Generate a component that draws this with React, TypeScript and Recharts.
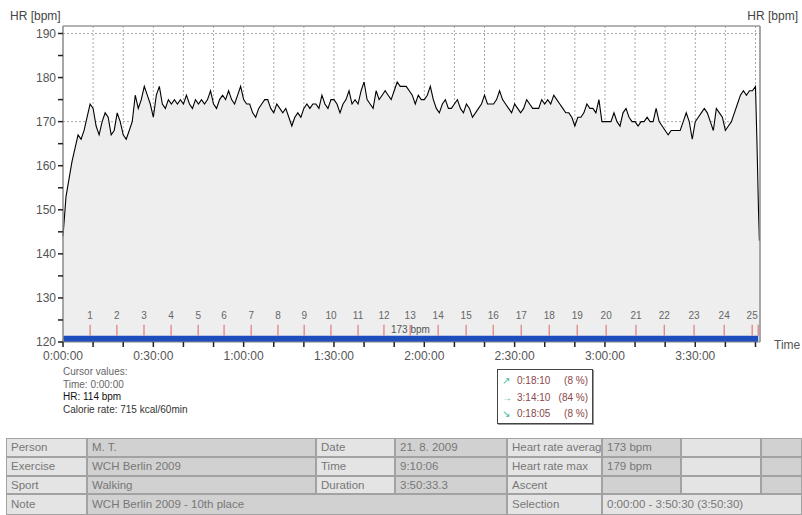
import React from 'react';
import {
  ComposedChart,
  Area,
  XAxis,
  YAxis,
  CartesianGrid,
  ReferenceLine,
  ReferenceArea,
} from 'recharts';

// heart rate, one reading per minute from 0:00 to 3:50
const HR_PER_MIN = [
  144, 153, 157, 161, 164, 167, 166, 168, 171, 174,
  173, 169, 167, 170, 172, 171, 167, 168, 172, 170,
  167, 166, 168, 170, 176, 173, 175, 178, 176, 174,
  171, 176, 178, 174, 173, 175, 174, 175, 174, 175,
  174, 176, 174, 173, 175, 174, 175, 174, 175, 177,
  174, 173, 175, 176, 175, 177, 175, 174, 176, 178,
  175, 174, 174, 172, 171, 173, 174, 175, 175, 173,
  172, 174, 173, 172, 173, 171, 169, 171, 172, 171,
  173, 174, 173, 174, 174, 173, 176, 174, 173, 175,
  175, 174, 172, 174, 175, 177, 174, 175, 174, 177,
  179, 175, 174, 173, 177, 175, 176, 177, 176, 175,
  177, 179, 178, 178, 178, 177, 176, 174, 176, 175,
  175, 176, 178, 175, 173, 172, 174, 175, 173, 173,
  174, 175, 173, 172, 174, 173, 171, 172, 173, 174,
  176, 174, 174, 174, 175, 177, 175, 174, 173, 172,
  174, 173, 172, 173, 175, 174, 173, 173, 173, 175,
  174, 175, 174, 176, 175, 174, 173, 172, 172, 171,
  169, 171, 171, 172, 174, 173, 173, 172, 175, 170,
  170, 170, 170, 172, 170, 169, 172, 173, 171, 170,
  170, 169, 170, 170, 171, 170, 170, 173, 170, 169,
  168, 167, 168, 168, 168, 168, 170, 172, 170, 166,
  170, 171, 172, 173, 172, 170, 168, 173, 172, 171,
  168, 169, 170, 172, 174, 176, 177, 176, 177, 177,
  178,
];

// the drop after the finish
const END_MIN = [230.5, 231, 231.3];
const END_HR = [165, 150, 143];

// lap markers (minutes)
const LAP_MIN = [
  9.0, 17.9, 26.9, 35.9, 44.9, 53.5, 62.5, 71.4, 80.1, 89.0,
  98.0, 106.6, 115.3, 124.6, 133.9, 142.9, 152.2, 161.5, 170.8, 180.4,
  190.3, 199.7, 209.6, 219.6, 228.9, 230.9,
];
const LAP_LABELS = [
  '1', '2', '3', '4', '5', '6', '7', '8', '9', '10',
  '11', '12', '13', '14', '15', '16', '17', '18', '19', '20',
  '21', '22', '23', '24', '25', '',
];

const X_TICKS = [
  0, 10, 20, 30, 40, 50, 60, 70, 80, 90, 100, 110, 120,
  130, 140, 150, 160, 170, 180, 190, 200, 210, 220, 230,
];
const GRID_MIN = [
  10, 20, 30, 40, 50, 60, 70, 80, 90, 100, 110, 120,
  130, 140, 150, 160, 170, 180, 190, 200, 210, 220, 230,
];
const Y_TICKS = [120, 125, 130, 135, 140, 145, 150, 155, 160, 165, 170, 175, 180, 185, 190];
const LIMIT_LINES = [170, 190];

const X_MAX = 231.5;
const Y_MIN = 120;
const Y_MAX = 191.7;
const BAR_TOP = 121.4;
const LAP_TOP = 123.9;

const data = [
  ...HR_PER_MIN.map((hr, i) => ({ t: i, hr })),
  ...END_MIN.map((t, i) => ({ t, hr: END_HR[i] })),
];

const fmtTime = (m: number) =>
  m % 30 === 0 ? `${Math.floor(m / 60)}:${String(m % 60).padStart(2, '0')}:00` : '';
const fmtHr = (v: number) => (v % 10 === 0 ? String(v) : '');

const L = '#e4e4e4';
const D = '#d1d1d1';
const COLS = [6, 87, 316, 395, 507, 602, 681, 761, 802];
const ROW_TOPS = [438, 457, 476, 494];
const ROW_H = [19, 19, 18, 21];
const TABLE = [
  [['Person', L, 1], ['M. T.', D, 1], ['Date', L, 1], ['21. 8. 2009', D, 1], ['Heart rate averag', L, 1], ['173 bpm', D, 1], ['', L, 1], ['', D, 1]],
  [['Exercise', L, 1], ['WCH Berlin 2009', D, 1], ['Time', L, 1], ['9:10:06', D, 1], ['Heart rate max', L, 1], ['179 bpm', D, 1], ['', L, 1], ['', D, 1]],
  [['Sport', L, 1], ['Walking', D, 1], ['Duration', L, 1], ['3:50:33.3', D, 1], ['Ascent', L, 1], ['', D, 1], ['', L, 1], ['', D, 1]],
  [['Note', L, 1], ['WCH Berlin 2009 - 10th place', D, 3], ['Selection', L, 1], ['0:00:00 - 3:50:30 (3:50:30)', L, 3]],
] as [string, string, number][][];

const ZONES = [
  ['\u2197', '0:18:10', '(8 %)'],
  ['\u2192', '3:14:10', '(84 %)'],
  ['\u2198', '0:18:05', '(8 %)'],
];

const tickStyle = { fill: '#555', fontSize: 12 };

export default function App() {
  const cells: React.ReactNode[] = [];
  TABLE.forEach((row, r) => {
    let c = 0;
    row.forEach(([text, bg, span], k) => {
      const left = COLS[c];
      const right = COLS[c + span];
      c += span;
      cells.push(
        <div
          key={`${r}-${k}`}
          style={{
            position: 'absolute',
            left,
            top: ROW_TOPS[r],
            width: right - left,
            height: ROW_H[r],
            background: bg,
            border: '1px solid #a2a2a2',
            boxSizing: 'border-box',
            color: '#777',
            fontSize: 11.5,
            lineHeight: `${ROW_H[r] - 2}px`,
            paddingLeft: 4,
            whiteSpace: 'nowrap',
            overflow: 'hidden',
          }}
        >
          {text}
        </div>
      );
    });
  });

  return (
    <div
      style={{
        position: 'absolute',
        left: 0,
        top: 0,
        width: 802,
        height: 515,
        background: '#fff',
        fontFamily: '"Liberation Sans", Arial, sans-serif',
        overflow: 'hidden',
      }}
    >
      <ComposedChart
        width={802}
        height={370}
        data={data}
        margin={{ top: 26, right: 0, bottom: 0, left: 0 }}
      >
        <CartesianGrid
          yAxisId="left"
          stroke="#a8a8a8"
          strokeDasharray="2 2"
          horizontalValues={LIMIT_LINES}
          verticalValues={GRID_MIN}
        />
        <XAxis
          type="number"
          dataKey="t"
          domain={[0, X_MAX]}
          ticks={X_TICKS}
          interval={0}
          tickFormatter={fmtTime}
          height={28}
          tickSize={5}
          tickMargin={4}
          axisLine={{ stroke: '#8a8a8a' }}
          tickLine={{ stroke: '#222', strokeWidth: 1.5 }}
          tick={tickStyle}
        />
        <YAxis
          yAxisId="left"
          domain={[Y_MIN, Y_MAX]}
          ticks={Y_TICKS}
          interval={0}
          tickFormatter={fmtHr}
          width={63}
          tickSize={5}
          tickMargin={2}
          axisLine={{ stroke: '#8a8a8a', strokeWidth: 1.5 }}
          tickLine={{ stroke: '#222', strokeWidth: 1.5 }}
          tick={tickStyle}
        />
        <YAxis
          yAxisId="right"
          orientation="right"
          domain={[Y_MIN, Y_MAX]}
          ticks={Y_TICKS}
          interval={0}
          tickFormatter={fmtHr}
          width={42}
          tickSize={5}
          tickMargin={2}
          axisLine={{ stroke: '#8a8a8a', strokeWidth: 1.5 }}
          tickLine={{ stroke: '#222', strokeWidth: 1.5 }}
          tick={tickStyle}
        />
        <ReferenceLine yAxisId="left" y={Y_MAX} stroke="#9a9a9a" strokeWidth={1.5} />
        <Area
          yAxisId="left"
          type="linear"
          dataKey="hr"
          stroke="#000"
          strokeWidth={1.1}
          fill="#eeeeee"
          fillOpacity={1}
          baseValue={Y_MIN}
          isAnimationActive={false}
        />
        <ReferenceArea
          yAxisId="left"
          x1={0}
          x2={LAP_MIN[LAP_MIN.length - 1]}
          y1={Y_MIN}
          y2={BAR_TOP}
          fill="#1f4dbd"
          fillOpacity={1}
          stroke="none"
        />
        {LAP_MIN.map((t, i) => (
          <ReferenceLine
            key={i}
            yAxisId="left"
            segment={[
              { x: t, y: BAR_TOP },
              { x: t, y: LAP_TOP },
            ]}
            stroke="#e07a7a"
            strokeWidth={1.2}
            label={{ value: LAP_LABELS[i], position: 'top', offset: 6, fill: '#666', fontSize: 10 }}
          />
        ))}
      </ComposedChart>

      <div style={{ position: 'absolute', left: 10, top: 9, fontSize: 12, color: '#444' }}>HR [bpm]</div>
      <div style={{ position: 'absolute', right: 4, top: 9, fontSize: 12, color: '#444' }}>HR [bpm]</div>
      <div style={{ position: 'absolute', left: 774, top: 338, fontSize: 12, color: '#555' }}>Time</div>
      <div style={{ position: 'absolute', left: 391, top: 324, fontSize: 10, color: '#555' }}>173 bpm</div>

      <div style={{ position: 'absolute', left: 63, top: 366, fontSize: 10, lineHeight: '12.6px', color: '#666' }}>
        <div>Cursor values:</div>
        <div>Time: 0:00:00</div>
        <div style={{ color: '#111' }}>HR: 114 bpm</div>
        <div style={{ color: '#333' }}>Calorie rate: 715 kcal/60min</div>
      </div>

      <div
        style={{
          position: 'absolute',
          left: 497,
          top: 369,
          width: 96,
          height: 55,
          border: '1px solid #444',
          boxShadow: '1px 1px 0 #999',
          boxSizing: 'border-box',
          background: '#fff',
          fontSize: 10,
        }}
      >
        {ZONES.map(([arrow, time, pct], i) => (
          <div key={i} style={{ position: 'absolute', left: 0, top: 4 + i * 16.5, width: 94, height: 14, lineHeight: '14px' }}>
            <span style={{ position: 'absolute', left: 4, color: '#3cb89c' }}>{arrow}</span>
            <span style={{ position: 'absolute', left: 19, color: '#8a4848' }}>{time}</span>
            <span style={{ position: 'absolute', right: 4, color: '#8a4848' }}>{pct}</span>
          </div>
        ))}
      </div>

      {cells}
    </div>
  );
}
